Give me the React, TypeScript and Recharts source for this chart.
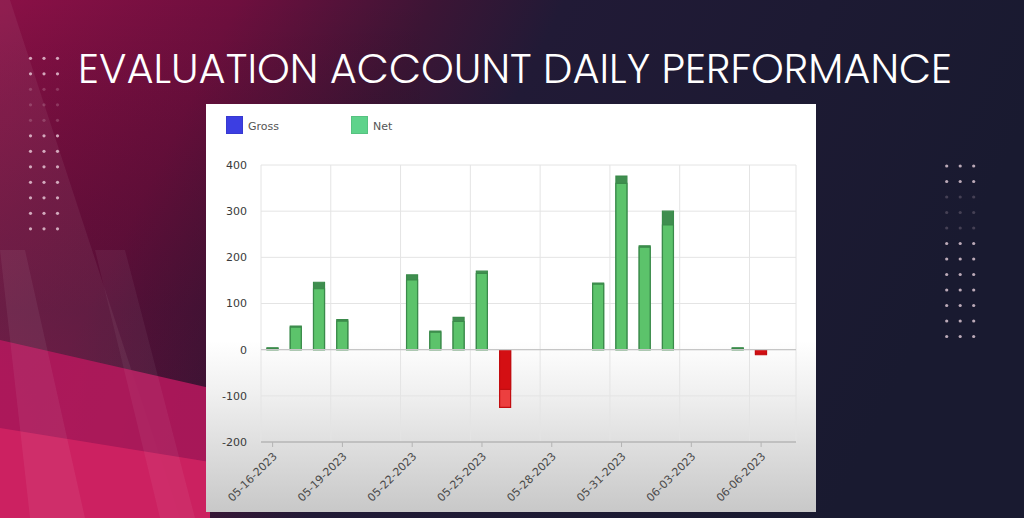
import React from "react";
import {
  BarChart,
  Bar,
  Cell,
  XAxis,
  YAxis,
  CartesianGrid,
  ReferenceLine,
} from "recharts";

const DATES = [
  "05-16-2023", "05-17-2023", "05-18-2023", "05-19-2023", "05-20-2023",
  "05-21-2023", "05-22-2023", "05-23-2023", "05-24-2023", "05-25-2023",
  "05-26-2023", "05-27-2023", "05-28-2023", "05-29-2023", "05-30-2023",
  "05-31-2023", "06-01-2023", "06-02-2023", "06-03-2023", "06-04-2023",
  "06-05-2023", "06-06-2023", "06-07-2023",
];
const GROSS = [4, 51, 146, 65, 0, 0, 162, 40, 70, 170, -86, 0, 0, 0, 144, 376, 225, 300, 0, 0, 4, -9, 0];
const NET = [3, 49, 132, 62, 0, 0, 151, 38, 61, 165, -125, 0, 0, 0, 142, 360, 222, 270, 0, 0, 3, -11, 0];

const Y_TICKS = [-200, -100, 0, 100, 200, 300, 400];
// vertical grid sits on day boundaries, every third day
const GRID_STEPS = [0, 3, 6, 9, 12, 15, 18, 21];

const COLORS = {
  grossUp: "#3f8e4f",
  netUp: "#5cc36b",
  upStroke: "#3a8a4a",
  grossDown: "#d40f13",
  netDown: "#ec3f3f",
  downStroke: "#c20d10",
};

// draw the bigger move first, the smaller one over it, so both parts show
const rows = DATES.map((date, i) => {
  const g = GROSS[i];
  const n = NET[i];
  const grossOuter = Math.abs(g) >= Math.abs(n);
  return {
    date,
    idx: i,
    outer: grossOuter ? g : n,
    inner: grossOuter ? n : g,
    outerIsGross: grossOuter,
  };
});

const FONT = "'DejaVu Sans', Verdana, sans-serif";

function DateTick({ x, y, payload }: any) {
  return (
    <g transform={`translate(${x + 5},${y + 8})`}>
      <text
        textAnchor="end"
        transform="rotate(-45)"
        fontSize={11}
        fill="#4a4a4a"
        fontFamily={FONT}
      >
        {payload.value}
      </text>
    </g>
  );
}

function Dots({ x0, y0, fade }: { x0: number; y0: number; fade: number[] }) {
  const dots = [];
  for (let r = 0; r < 12; r++) {
    for (let c = 0; c < 3; c++) {
      dots.push(
        <circle
          key={`${r}-${c}`}
          cx={x0 + c * 13.5}
          cy={y0 + r * 15.5}
          r={1.6}
          fill="#f3dbe6"
          opacity={fade.includes(r) ? 0.2 : 0.75}
        />
      );
    }
  }
  return <g>{dots}</g>;
}

function Backdrop() {
  return (
    <svg
      width={1024}
      height={518}
      style={{ position: "absolute", left: 0, top: 0 }}
    >
      <defs>
        <linearGradient id="bg" x1="0" y1="0" x2="1" y2="0.25">
          <stop offset="0%" stopColor="#8a1046" />
          <stop offset="22%" stopColor="#6e0f3e" />
          <stop offset="40%" stopColor="#3c1535" />
          <stop offset="52%" stopColor="#211a36" />
          <stop offset="100%" stopColor="#191a30" />
        </linearGradient>
        <linearGradient id="shade" x1="0" y1="0" x2="0" y2="1">
          <stop offset="0%" stopColor="#000" stopOpacity="0" />
          <stop offset="60%" stopColor="#1b0f25" stopOpacity="0.25" />
          <stop offset="100%" stopColor="#1b0f25" stopOpacity="0" />
        </linearGradient>
      </defs>
      <rect width={1024} height={518} fill="url(#bg)" />
      <rect width={420} height={518} fill="url(#shade)" />
      <polygon points="0,0 10,0 180,518 0,518" fill="#ffffff" opacity={0.06} />
      <polygon points="0,340 210,388 210,518 0,518" fill="#b3185c" opacity={0.9} />
      <polygon points="0,428 210,462 210,518 0,518" fill="#cf2262" opacity={0.9} />
      <polygon points="0,250 25,250 85,518 30,518" fill="#ffffff" opacity={0.06} />
      <polygon points="95,250 125,250 195,518 160,518" fill="#ffffff" opacity={0.05} />
      <Dots x0={30.5} y0={58.3} fade={[2, 3, 4]} />
      <Dots x0={946.7} y0={166} fade={[2, 3, 4]} />
      <text
        x={78}
        y={83}
        fontSize={42}
        fontWeight={300}
        fill="#ffffff"
        fontFamily="Poppins, 'Open Sans', Lato, sans-serif"
        textLength={874}
        lengthAdjust="spacingAndGlyphs"
      >
        EVALUATION ACCOUNT DAILY PERFORMANCE
      </text>
    </svg>
  );
}

function LegendKey({ left, color, label }: { left: number; color: string; label: string }) {
  return (
    <div
      style={{
        position: "absolute",
        left,
        top: 12,
        display: "flex",
        alignItems: "center",
        fontFamily: FONT,
        fontSize: 11,
        lineHeight: "18px",
        color: "#555",
      }}
    >
      <div
        style={{
          width: 17,
          height: 18,
          background: color,
          boxSizing: "border-box",
          border: "1px solid rgba(0,0,0,0.08)",
          marginRight: 5,
        }}
      />
      <span style={{ position: "relative", top: 2 }}>{label}</span>
    </div>
  );
}

export default function App() {
  return (
    <div
      style={{
        position: "fixed",
        left: 0,
        top: 0,
        width: 1024,
        height: 518,
        overflow: "hidden",
        background: "#191a30",
      }}
    >
      <Backdrop />
      <div
        style={{
          position: "absolute",
          left: 206,
          top: 104,
          width: 610,
          height: 408,
          background:
            "linear-gradient(to bottom, #ffffff 0%, #ffffff 58%, #f1f1f1 70%, #c8c8c8 100%)",
        }}
      >
        <LegendKey left={20} color="#3c3ee2" label="Gross" />
        <LegendKey left={145} color="#5ed38b" label="Net" />
        <BarChart
          width={610}
          height={408}
          data={rows}
          margin={{ top: 61, right: 20, left: 0, bottom: 0 }}
          barGap={-11}
          style={{ position: "absolute", left: 0, top: 0 }}
        >
          <XAxis
            xAxisId="grid"
            type="number"
            dataKey="idx"
            domain={[0, 23]}
            ticks={GRID_STEPS}
            hide
          />
          <CartesianGrid
            xAxisId="grid"
            stroke="#e4e4e4"
            strokeWidth={1}
          />
          <XAxis
            dataKey="date"
            height={70}
            interval={2}
            tick={<DateTick />}
            tickSize={5}
            tickMargin={2}
            axisLine={{ stroke: "#b4b4b4", strokeWidth: 1.5 }}
            tickLine={{ stroke: "#b4b4b4" }}
          />
          <YAxis
            width={55}
            domain={[-200, 400]}
            ticks={Y_TICKS}
            axisLine={false}
            tickLine={false}
            tickSize={0}
            tickMargin={14}
            tick={{ fontSize: 11, fill: "#3a3a3a", fontFamily: FONT }}
          />
          <ReferenceLine y={0} stroke="#c6c6c6" strokeWidth={1.2} />
          <Bar dataKey="outer" barSize={11} isAnimationActive={false} strokeWidth={1.2}>
            {rows.map((r, i) => {
              const up = r.outer >= 0;
              const fill = r.outerIsGross
                ? up ? COLORS.grossUp : COLORS.grossDown
                : up ? COLORS.netUp : COLORS.netDown;
              return (
                <Cell
                  key={`o-${i}`}
                  fill={fill}
                  stroke={up ? COLORS.upStroke : COLORS.downStroke}
                />
              );
            })}
          </Bar>
          <Bar dataKey="inner" barSize={11} isAnimationActive={false} strokeWidth={1.2}>
            {rows.map((r, i) => {
              const up = r.inner >= 0;
              const fill = r.outerIsGross
                ? up ? COLORS.netUp : COLORS.netDown
                : up ? COLORS.grossUp : COLORS.grossDown;
              return (
                <Cell
                  key={`i-${i}`}
                  fill={fill}
                  stroke={up ? COLORS.upStroke : COLORS.downStroke}
                />
              );
            })}
          </Bar>
        </BarChart>
      </div>
    </div>
  );
}
